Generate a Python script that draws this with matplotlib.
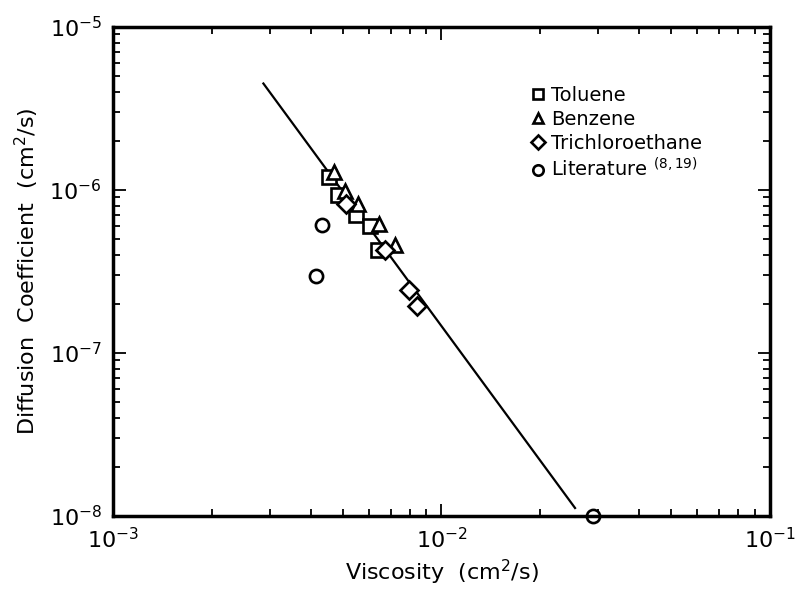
import numpy as np
import matplotlib
matplotlib.use("Agg")
import matplotlib.pyplot as plt
from matplotlib.ticker import LogLocator, NullFormatter

# Data (viscosity in cm^2/s, diffusion coefficient in cm^2/s)
toluene_visc = [4.55e-3, 4.83e-3, 5.48e-3, 6.06e-3, 6.40e-3]
toluene_diff = [1.20e-6, 9.3e-7, 7.05e-7, 6.0e-7, 4.3e-7]

benzene_visc = [4.72e-3, 5.10e-3, 5.57e-3, 6.45e-3, 7.20e-3]
benzene_diff = [1.29e-6, 9.9e-7, 8.2e-7, 6.2e-7, 4.6e-7]

trichloro_visc = [5.12e-3, 6.75e-3, 7.97e-3, 8.45e-3]
trichloro_diff = [8.2e-7, 4.3e-7, 2.45e-7, 1.95e-7]

lit_visc = [4.15e-3, 4.33e-3, 2.89e-2]
lit_diff = [2.97e-7, 6.1e-7, 1.0e-8]

fit_visc = [2.87e-3, 2.55e-2]
fit_diff = [4.5e-6, 1.12e-8]

plt.rcParams['font.family'] = ['DejaVu Sans']
plt.rcParams['mathtext.default'] = 'regular'

fig = plt.figure(figsize=(7.99, 5.89), dpi=100)
ax = fig.add_axes([0.1414, 0.1239, 0.8223, 0.8303])

ax.plot(fit_visc, fit_diff, color='k', lw=1.6)

mk = dict(linestyle='none', markerfacecolor='white', markeredgecolor='k',
          markeredgewidth=1.9, clip_on=False)
ax.plot(toluene_visc, toluene_diff, marker='s', markersize=9.5, label='Toluene', **mk)
ax.plot(benzene_visc, benzene_diff, marker='^', markersize=9.5, label='Benzene', **mk)
ax.plot(trichloro_visc, trichloro_diff, marker='D', markersize=9,
        label='Trichloroethane', **mk)
ax.plot(lit_visc, lit_diff, marker='o', markersize=9.5,
        label=r'Literature $^{\mathrm{(8,19)}}$', **mk)

ax.set_xscale('log')
ax.set_yscale('log')
ax.set_xlim(1e-3, 1e-1)
ax.set_ylim(1e-8, 1e-5)

ax.xaxis.set_major_locator(LogLocator(base=10, numticks=10))
ax.yaxis.set_major_locator(LogLocator(base=10, numticks=10))
ax.xaxis.set_minor_locator(LogLocator(base=10, subs=np.arange(2, 10), numticks=20))
ax.yaxis.set_minor_locator(LogLocator(base=10, subs=np.arange(2, 10), numticks=20))
ax.xaxis.set_minor_formatter(NullFormatter())
ax.yaxis.set_minor_formatter(NullFormatter())

ax.tick_params(which='both', direction='in', top=True, right=True, width=1.3)
ax.tick_params(which='major', length=9, labelsize=16, pad=8)
ax.tick_params(which='minor', length=5)
for s in ax.spines.values():
    s.set_linewidth(2.5)

ax.set_xlabel(r'Viscosity  (cm$^2$/s)', fontsize=16, labelpad=4)
ax.set_ylabel(r'Diffusion  Coefficient  (cm$^2$/s)', fontsize=16, labelpad=6)

leg = ax.legend(loc='upper left', bbox_to_anchor=(0.62, 0.895), frameon=False,
                fontsize=14, handletextpad=0.2, handlelength=1.0,
                labelspacing=0.25, borderaxespad=0)
for h in leg.legend_handles:
    h.set_markersize(7.5)

fig.savefig('out.png', dpi=100)
